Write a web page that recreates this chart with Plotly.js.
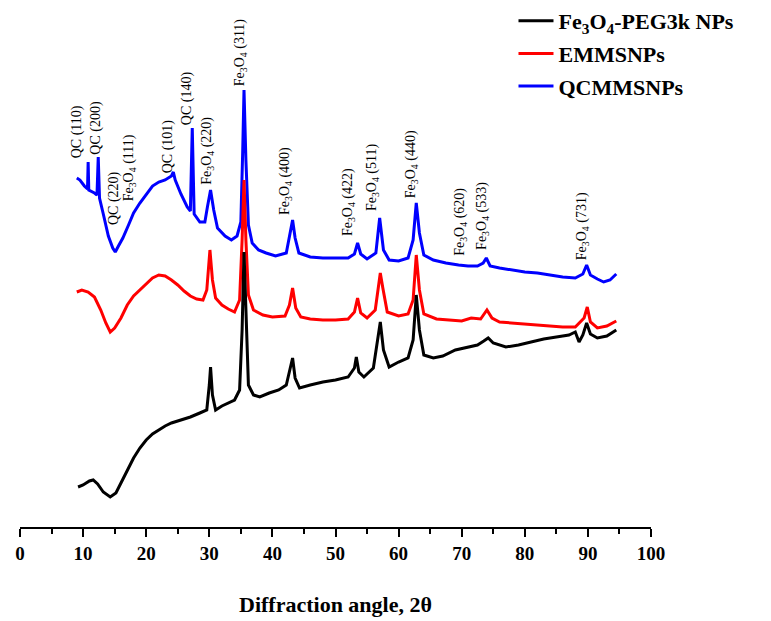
<!DOCTYPE html>
<html>
<head>
<meta charset="utf-8">
<script src="https://cdn.plot.ly/plotly-3.0.1.min.js"></script>
<style>
  html, body { margin: 0; padding: 0; background: #fff; }
  #chart { width: 771px; height: 621px; }
</style>
</head>
<body>
<div id="chart"></div>
<script>
// XRD patterns, stacked (arbitrary intensity units)

const seriesNames = ['Fe<sub>3</sub>O<sub>4</sub>-PEG3k NPs', 'EMMSNPs', 'QCMMSNPs'];

// Fe3O4-PEG3k NPs
const pegAngle = [9.2,10.0,11.0,11.6,12.3,13.2,14.3,15.2,16.0,17.0,18.0,19.0,20.0,21.0,22.0,23.0,24.0,25.5,27.0,28.5,
  29.6,30.0,30.2,30.5,31.0,32.0,33.0,34.0,34.8,35.2,35.5,35.8,36.2,37.0,38.0,39.5,41.0,42.2,42.8,43.2,
  43.6,44.3,46.0,48.0,50.0,52.0,53.0,53.3,53.7,54.5,56.0,56.6,57.1,57.6,58.5,60.0,61.5,62.3,62.8,63.3,
  64.0,65.5,67.0,69.0,71.0,72.5,73.5,74.2,75.0,77.0,79.0,81.0,83.0,85.0,87.0,88.0,88.6,89.2,89.8,90.4,
  91.5,93.0,94.5];
const pegIntensity = [40,42,46,47,43,35,30,34,44,57,69,79,87,93,97,101,104,107,110,114,
  117,142,160,132,117,121,124,127,137,197,275,207,142,132,130,134,137,142,159,169,
  149,139,142,145,147,150,159,170,155,150,159,182,205,177,160,165,169,187,232,197,
  172,169,171,177,180,182,186,189,184,180,182,185,188,190,192,195,185,192,204,193,
  189,191,197];

// EMMSNPs
const emAngle = [9.0,9.8,10.8,11.8,12.8,13.6,14.3,15.0,16.0,17.0,18.0,19.0,20.0,21.0,22.0,23.0,24.0,25.0,26.0,27.0,
  28.0,29.0,29.6,30.1,30.5,31.0,32.0,33.0,34.0,34.8,35.2,35.5,35.8,36.2,37.0,38.5,40.0,42.0,42.7,43.2,
  43.7,44.5,46.0,48.0,50.0,52.0,53.0,53.5,54.0,55.0,56.3,56.8,57.1,57.5,58.2,60.0,61.5,62.3,62.8,63.3,
  64.0,66.0,68.0,70.0,71.5,73.0,74.0,74.8,76.0,78.0,80.0,82.0,84.0,86.0,88.0,89.4,89.9,90.4,91.5,93.0,
  94.5];
const emIntensity = [235,237,235,230,217,204,195,199,209,222,231,237,244,249,252,251,247,242,236,231,
  228,227,237,277,247,229,222,218,215,227,287,347,287,232,217,212,210,211,222,239,
  219,210,208,207,207,208,215,229,214,209,217,242,254,239,215,211,213,227,272,237,
  213,208,207,206,209,208,217,209,205,204,203,202,201,200,200,209,220,205,199,201,
  206];

// QCMMSNPs
const qcAngle = [9.0,9.5,10.2,10.7,10.8,10.9,11.8,12.2,12.4,12.6,13.2,14.0,14.7,15.1,15.6,16.3,17.2,18.0,19.0,20.0,
  21.0,22.0,23.0,24.0,24.3,24.6,25.5,26.5,27.0,27.3,27.6,28.5,29.3,29.7,30.2,30.7,31.3,32.5,33.5,34.4,
  35.0,35.3,35.5,35.8,36.2,36.8,37.8,39.0,40.5,42.2,42.8,43.2,43.6,44.2,46.0,48.0,50.0,52.0,53.0,53.5,
  54.0,55.0,56.4,57.0,57.6,58.5,60.0,61.5,62.3,62.8,63.3,64.0,65.5,67.5,69.5,71.0,72.5,73.4,73.9,74.5,
  76.0,78.0,80.0,82.0,84.0,86.0,88.0,89.2,89.8,90.4,91.5,92.5,93.5,94.5];
const qcIntensity = [349,347,341,338,365,337,334,332,370,329,313,291,279,275,281,289,302,314,324,333,
  341,345,347,351,355,347,333,320,316,399,313,305,305,320,337,317,299,291,287,291,
  305,377,437,367,302,284,277,274,271,274,292,307,289,274,270,269,269,269,273,284,
  273,268,274,309,277,267,266,269,287,324,294,272,267,264,262,261,261,264,269,261,
  259,257,255,254,252,250,249,253,262,252,248,245,247,253];

// Reflection labels
const peakLabels = ['QC (110)','QC (200)','QC (220)','Fe<sub>3</sub>O<sub>4</sub> (111)','QC (101)','QC (140)',
  'Fe<sub>3</sub>O<sub>4</sub> (220)','Fe<sub>3</sub>O<sub>4</sub> (311)','Fe<sub>3</sub>O<sub>4</sub> (400)',
  'Fe<sub>3</sub>O<sub>4</sub> (422)','Fe<sub>3</sub>O<sub>4</sub> (511)','Fe<sub>3</sub>O<sub>4</sub> (440)',
  'Fe<sub>3</sub>O<sub>4</sub> (620)','Fe<sub>3</sub>O<sub>4</sub> (533)','Fe<sub>3</sub>O<sub>4</sub> (731)'];
const peakLabelAngle = [9.0,12.0,14.9,17.4,23.5,26.5,29.6,34.9,42.0,52.0,55.8,62.0,69.7,73.2,89.1];
const peakLabelBase = [367,370,300,324,352,400,340,439,310,289,314,327,269,275,265];

const xTickVals = [0,10,20,30,40,50,60,70,80,90,100];

const serif = 'Liberation Serif, Times New Roman, serif';

// drawn blue, red, black so the black pattern sits on top; legend lists them black first
const traces = [
  { x: qcAngle, y: qcIntensity, name: seriesNames[2], color: '#0000ff', group: 'qc', rank: 3 },
  { x: emAngle, y: emIntensity, name: seriesNames[1], color: '#ff0000', group: 'em', rank: 2 },
  { x: pegAngle, y: pegIntensity, name: seriesNames[0], color: '#000000', group: 'peg', rank: 1 }
].map(s => ({
  type: 'scatter', mode: 'lines', x: s.x, y: s.y, name: s.name,
  legendgroup: s.group, legendrank: s.rank,
  line: { color: s.color, width: 3 }
}));

const annotations = peakLabels.map((t, i) => ({
  x: peakLabelAngle[i], y: peakLabelBase[i], xref: 'x', yref: 'y',
  text: t, showarrow: false, textangle: -90,
  xanchor: 'center', yanchor: 'bottom',
  font: { family: serif, size: 14, color: '#000' }
}));

const layout = {
  width: 771, height: 621,
  margin: { l: 20, r: 120, t: 0, b: 94 },
  paper_bgcolor: '#fff', plot_bgcolor: '#fff',
  showlegend: true,
  legend: {
    x: 0.79, y: 1.0, xanchor: 'left', yanchor: 'top',
    traceorder: 'grouped', tracegroupgap: 1,
    bgcolor: 'rgba(0,0,0,0)', borderwidth: 0,
    font: { family: serif, size: 22, weight: 'bold', color: '#000' }
  },
  xaxis: {
    range: [0, 100], tickvals: xTickVals, ticktext: xTickVals.map(String),
    showline: true, linecolor: '#000', linewidth: 2,
    ticks: 'outside', ticklen: 8, tickwidth: 2, tickcolor: '#000',
    minor: { dtick: 5, tick0: 0, ticks: 'outside', ticklen: 5, tickwidth: 2, tickcolor: '#000', showgrid: false },
    showgrid: false, zeroline: false,
    tickfont: { family: serif, size: 19, weight: 'bold', color: '#000' },
    title: { text: 'Diffraction angle, 2θ', font: { family: serif, size: 22, weight: 'bold', color: '#000' }, standoff: 34 }
  },
  yaxis: { range: [0, 527], visible: false, showgrid: false, zeroline: false },
  annotations: annotations
};

Plotly.newPlot('chart', traces, layout, { staticPlot: true, displayModeBar: false }).then(gd => {
  // longer legend line samples
  gd.querySelectorAll('.legend .legendlines path').forEach(p => p.setAttribute('d', 'M-14,0h49'));
});
</script>
</body>
</html>
